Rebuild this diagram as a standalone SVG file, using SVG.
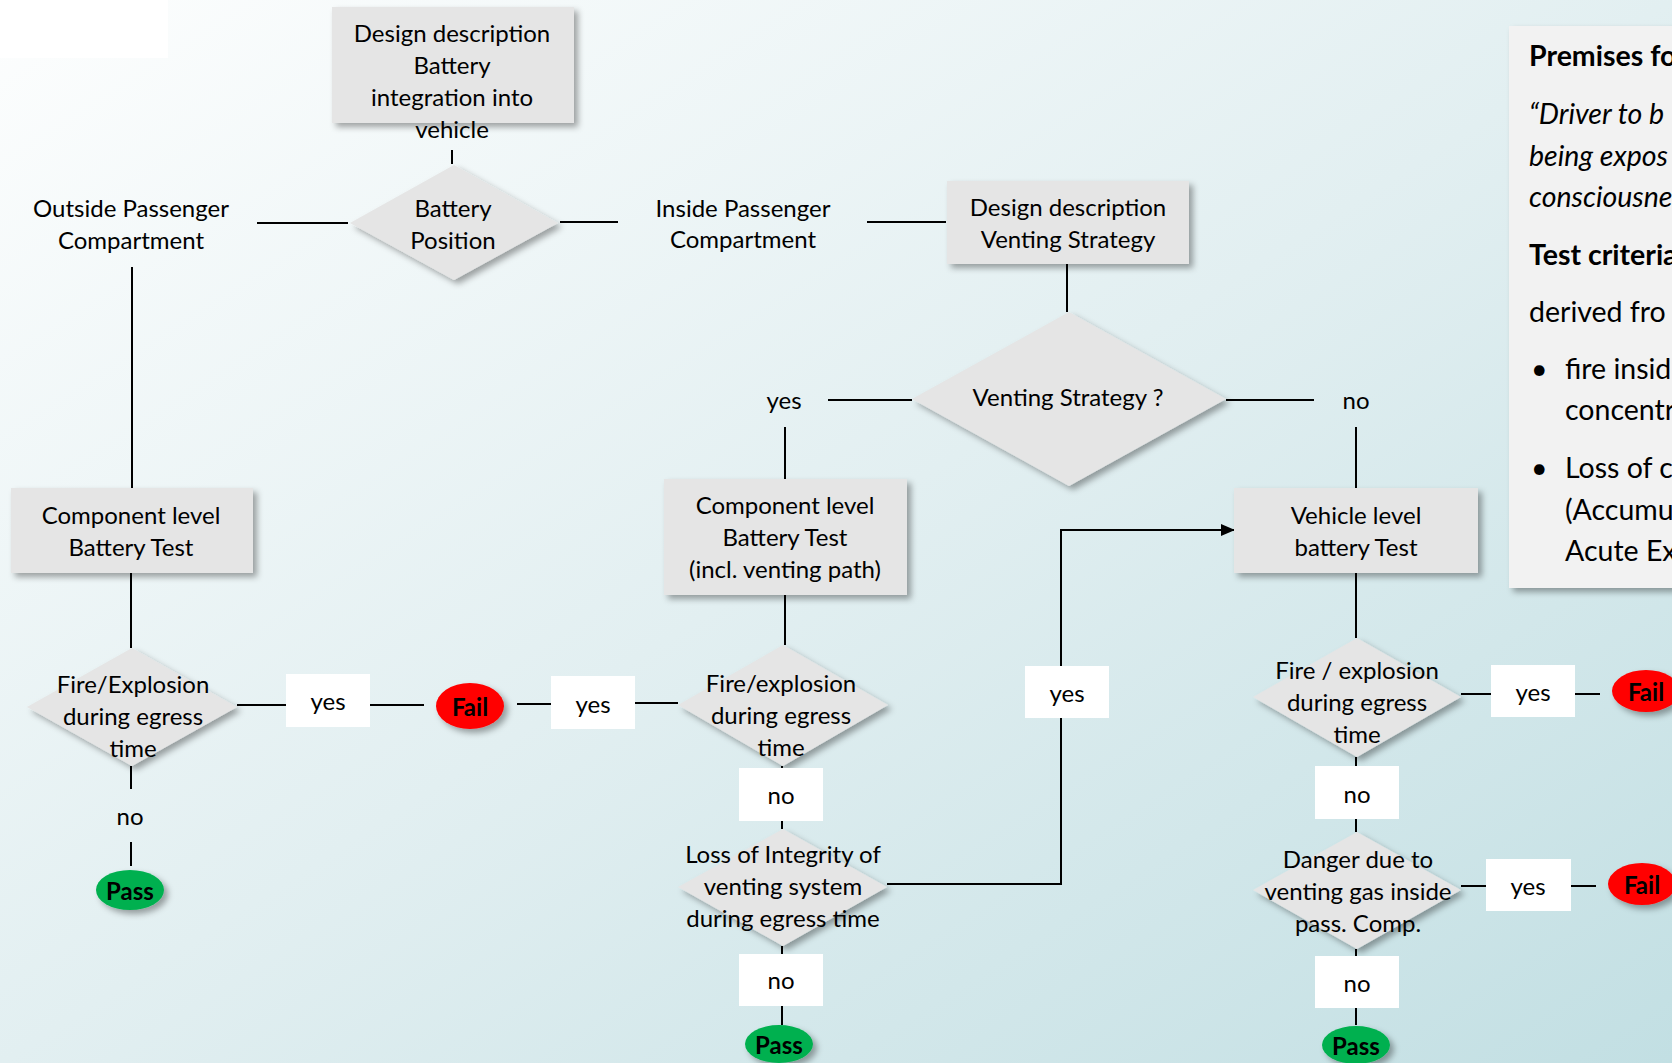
<svg xmlns="http://www.w3.org/2000/svg" width="1672" height="1063" viewBox="0 0 1672 1063">
<style>
  .t { font-family: Lato, "Liberation Sans", sans-serif; font-size: 24px; fill: #000; text-anchor: middle; dominant-baseline: central; }
  .b { font-weight: bold; font-size: 24px; }
  .p { font-family: Lato, "Liberation Sans", sans-serif; font-size: 28.5px; fill: #000; dominant-baseline: central; }
  .pb { font-weight: bold; }
  .pi { font-style: italic; }
  .shape { fill: #e5e5e5; filter: url(#sh); }
  .lbl { fill: #ffffff; }
  .con { stroke: #000; stroke-width: 2; fill: none; }
  .fail { fill: #ff0000; filter: url(#sh); }
  .pass { fill: #00b050; filter: url(#sh); }
</style>
<defs>
  <linearGradient id="bg" x1="0" y1="0" x2="1" y2="1">
    <stop offset="0" stop-color="#fdfefe"/>
    <stop offset="0.5" stop-color="#e2eff1"/>
    <stop offset="1" stop-color="#c2dfe3"/>
  </linearGradient>
  <filter id="sh" x="-20%" y="-20%" width="150%" height="150%">
    <feDropShadow dx="4" dy="4" stdDeviation="3" flood-color="#000" flood-opacity="0.35"/>
  </filter>
  <marker id="arr" markerWidth="14" markerHeight="12" refX="13" refY="6" orient="auto" markerUnits="userSpaceOnUse">
    <path d="M0,0 L14,6 L0,12 z" fill="#000"/>
  </marker>
</defs>

<rect x="0" y="0" width="1672" height="1063" fill="url(#bg)"/>
<rect x="0" y="0" width="168" height="58" fill="#ffffff"/>

<g id="connectors">
  <path class="con" d="M452 150 V164"/>
  <path class="con" d="M257 223 H348"/>
  <path class="con" d="M560 222 H618"/>
  <path class="con" d="M867 222 H946"/>
  <path class="con" d="M1067 264 V312"/>
  <path class="con" d="M828 400 H912"/>
  <path class="con" d="M785 427 V479"/>
  <path class="con" d="M785 595 V645"/>
  <path class="con" d="M1226 400 H1314"/>
  <path class="con" d="M1356 427 V488"/>
  <path class="con" d="M887 884 H1061 V530 H1234" marker-end="url(#arr)"/>
  <path class="con" d="M1356 573 V638"/>
  <path class="con" d="M1461 694 H1491"/>
  <path class="con" d="M1575 694 H1600"/>
  <path class="con" d="M1356 757 V832"/>
  <path class="con" d="M1461 886 H1487"/>
  <path class="con" d="M1571 886 H1596"/>
  <path class="con" d="M1356 949 V1025"/>
  <path class="con" d="M132 267 V488"/>
  <path class="con" d="M131 573 V648"/>
  <path class="con" d="M131 766 V789"/>
  <path class="con" d="M131 842 V866"/>
  <path class="con" d="M237 705 H286"/>
  <path class="con" d="M370 705 H424"/>
  <path class="con" d="M517 704 H551"/>
  <path class="con" d="M635 703 H678"/>
  <path class="con" d="M782 766 V829"/>
  <path class="con" d="M782 946 V1025"/>
</g>

<g id="box-design-battery">
  <rect class="shape" x="332" y="7" width="242" height="116"/>
  <text class="t" x="452" y="32">Design description</text>
  <text class="t" x="452" y="64">Battery</text>
  <text class="t" x="452" y="96">integration into</text>
  <text class="t" x="452" y="128">vehicle</text>
</g>

<g id="dec-battery-position">
  <polygon class="shape" points="454,165 558,223 454,280 350,223"/>
  <text class="t" x="453" y="207">Battery</text>
  <text class="t" x="453" y="239">Position</text>
</g>

<g id="lbl-outside">
  <text class="t" x="131" y="207">Outside Passenger</text>
  <text class="t" x="131" y="239">Compartment</text>
</g>

<g id="lbl-inside">
  <text class="t" x="743" y="207">Inside Passenger</text>
  <text class="t" x="743" y="238">Compartment</text>
</g>

<g id="box-design-venting">
  <rect class="shape" x="947" y="181" width="242" height="83"/>
  <text class="t" x="1068" y="206">Design description</text>
  <text class="t" x="1068" y="238">Venting Strategy</text>
</g>

<g id="dec-venting-strategy">
  <polygon class="shape" points="1069,312 1226,399 1069,486 912,399"/>
  <text class="t" x="1068" y="396">Venting Strategy ?</text>
</g>

<g id="lbl-vs-yes">
  <text class="t" x="784" y="399">yes</text>
</g>
<g id="lbl-vs-no">
  <text class="t" x="1356" y="399">no</text>
</g>

<g id="box-comp-left">
  <rect class="shape" x="11" y="488" width="242" height="85"/>
  <text class="t" x="131" y="514">Component level</text>
  <text class="t" x="131" y="546">Battery Test</text>
</g>

<g id="box-comp-mid">
  <rect class="shape" x="664" y="479" width="243" height="116"/>
  <text class="t" x="785" y="504">Component level</text>
  <text class="t" x="785" y="536">Battery Test</text>
  <text class="t" x="785" y="568">(incl. venting path)</text>
</g>

<g id="box-vehicle">
  <rect class="shape" x="1234" y="488" width="244" height="85"/>
  <text class="t" x="1356" y="514">Vehicle level</text>
  <text class="t" x="1356" y="546">battery Test</text>
</g>

<g id="dec-fire-left">
  <polygon class="shape" points="132,648 237,707 132,766 27,707"/>
  <text class="t" x="133" y="683">Fire/Explosion</text>
  <text class="t" x="133" y="715">during egress</text>
  <text class="t" x="133" y="747">time</text>
</g>

<g id="lbl-left-yes">
  <rect class="lbl" x="286" y="674" width="84" height="53"/>
  <text class="t" x="328" y="700">yes</text>
</g>

<g id="fail-left">
  <ellipse class="fail" cx="470" cy="706" rx="34" ry="23"/>
  <text class="t b" x="470" y="706">Fail</text>
</g>

<g id="lbl-mid-yes">
  <rect class="lbl" x="551" y="676" width="84" height="53"/>
  <text class="t" x="593" y="703">yes</text>
</g>

<g id="lbl-left-no">
  <text class="t" x="130" y="815">no</text>
</g>

<g id="pass-left">
  <ellipse class="pass" cx="130" cy="890" rx="34" ry="20"/>
  <text class="t b" x="130" y="890">Pass</text>
</g>

<g id="dec-fire-mid">
  <polygon class="shape" points="783,645 888,705 783,766 678,705"/>
  <text class="t" x="781" y="682">Fire/explosion</text>
  <text class="t" x="781" y="714">during egress</text>
  <text class="t" x="781" y="746">time</text>
</g>

<g id="lbl-mid-no1">
  <rect class="lbl" x="739" y="768" width="84" height="53"/>
  <text class="t" x="781" y="794">no</text>
</g>

<g id="dec-loss">
  <polygon class="shape" points="783,829 887,887 783,946 678,887"/>
  <text class="t" x="783" y="853">Loss of Integrity of</text>
  <text class="t" x="783" y="885">venting system</text>
  <text class="t" x="783" y="917">during egress time</text>
</g>

<g id="lbl-mid-no2">
  <rect class="lbl" x="739" y="954" width="84" height="52"/>
  <text class="t" x="781" y="979">no</text>
</g>

<g id="pass-mid">
  <ellipse class="pass" cx="779" cy="1044" rx="34" ry="19"/>
  <text class="t b" x="779" y="1044">Pass</text>
</g>

<g id="lbl-arrow-yes">
  <rect class="lbl" x="1025" y="666" width="84" height="52"/>
  <text class="t" x="1067" y="692">yes</text>
</g>

<g id="dec-fire-right">
  <polygon class="shape" points="1357,638 1461,697 1357,757 1253,697"/>
  <text class="t" x="1357" y="669">Fire / explosion</text>
  <text class="t" x="1357" y="701">during egress</text>
  <text class="t" x="1357" y="733">time</text>
</g>

<g id="lbl-right-yes1">
  <rect class="lbl" x="1491" y="665" width="84" height="52"/>
  <text class="t" x="1533" y="691">yes</text>
</g>

<g id="fail-right1">
  <ellipse class="fail" cx="1646" cy="691" rx="34" ry="21"/>
  <text class="t b" x="1646" y="691">Fail</text>
</g>

<g id="lbl-right-no1">
  <rect class="lbl" x="1315" y="766" width="84" height="53"/>
  <text class="t" x="1357" y="793">no</text>
</g>

<g id="dec-danger">
  <polygon class="shape" points="1357,832 1461,890 1357,949 1253,890"/>
  <text class="t" x="1358" y="858">Danger due to</text>
  <text class="t" x="1358" y="890">venting gas inside</text>
  <text class="t" x="1358" y="922">pass. Comp.</text>
</g>

<g id="lbl-right-yes2">
  <rect class="lbl" x="1486" y="859" width="85" height="52"/>
  <text class="t" x="1528" y="885">yes</text>
</g>

<g id="fail-right2">
  <ellipse class="fail" cx="1642" cy="884" rx="34" ry="21"/>
  <text class="t b" x="1642" y="884">Fail</text>
</g>

<g id="lbl-right-no2">
  <rect class="lbl" x="1315" y="956" width="84" height="52"/>
  <text class="t" x="1357" y="982">no</text>
</g>

<g id="pass-right">
  <ellipse class="pass" cx="1356" cy="1045" rx="34" ry="19"/>
  <text class="t b" x="1356" y="1045">Pass</text>
</g>

<g id="panel-premises">
  <rect x="1509" y="26" width="200" height="562" fill="#f2f2f2" filter="url(#sh)"/>
  <text class="p pb" x="1529" y="55">Premises fo</text>
  <text class="p pi" x="1529" y="113">“Driver to b</text>
  <text class="p pi" x="1529" y="155">being expos</text>
  <text class="p pi" x="1529" y="196">consciousne</text>
  <text class="p pb" x="1529" y="254">Test criteria</text>
  <text class="p" x="1529" y="311">derived fro</text>
  <text class="p" x="1531" y="368" font-size="22">•</text>
  <text class="p" x="1565" y="368">fire insid</text>
  <text class="p" x="1565" y="409">concentr</text>
  <text class="p" x="1531" y="467" font-size="22">•</text>
  <text class="p" x="1565" y="467">Loss of c</text>
  <text class="p" x="1565" y="509">(Accumu</text>
  <text class="p" x="1565" y="550">Acute Ex</text>
</g>
</svg>
